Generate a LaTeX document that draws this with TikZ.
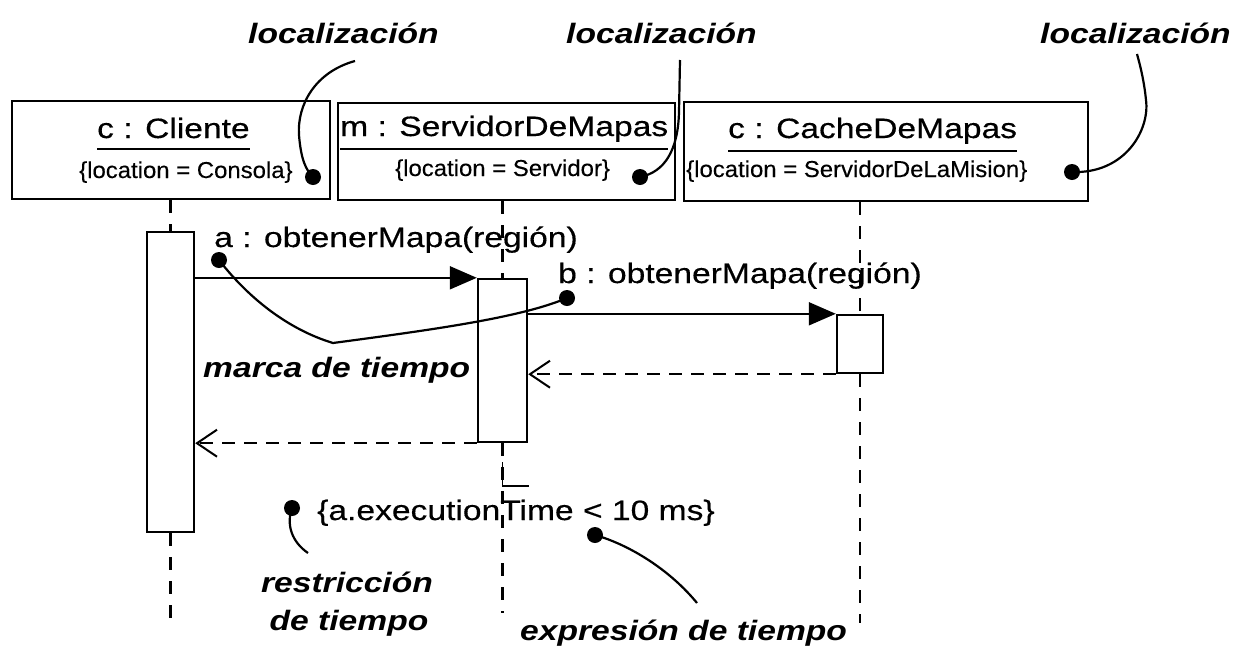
\documentclass[tikz,border=0pt]{standalone}
\usepackage{fontspec}
\usetikzlibrary{arrows.meta,calc}
\newfontfamily\hvbig[FakeStretch=1.2]{Liberation Sans}
\newfontfamily\hvreg[FakeStretch=1.2,FakeBold=0.4]{Liberation Sans}
\newfontfamily\hvsmall[FakeStretch=1.04,FakeBold=0.3]{Liberation Sans}
\begin{document}
\begin{tikzpicture}[x=1pt,y=-1pt,
  big/.style={font=\hvreg\fontsize{28}{32}\selectfont, inner sep=0pt, anchor=base west},
  small/.style={font=\hvsmall\fontsize{23}{26}\selectfont, inner sep=0pt, anchor=base west},
  note/.style={font=\hvbig\bfseries\itshape\fontsize{28}{32}\selectfont, inner sep=0pt, anchor=base west},
  objbox/.style={draw, line width=2.6pt, inner sep=0pt},
  act/.style={draw, line width=2.4pt, fill=white, inner sep=0pt},
  dotm/.style={circle, fill=black, inner sep=0pt, minimum size=16pt},
  msg/.style={line width=2pt, -{Triangle[length=27pt,width=23pt]}},
  ret/.style={line width=2pt, dash pattern=on 13pt off 9pt, -{Straight Barb[length=20pt,width=27pt,line width=2pt]}},
  life/.style={line width=2.4pt, dash pattern=on 13pt off 11pt},
  callout/.style={line width=2.2pt}
]
\useasboundingbox (0,0) rectangle (1243,646);
\fill[white] (0,0) rectangle (1243,646);

% object boxes
\node[objbox, minimum width=318pt, minimum height=98pt] (box1) at (171,150) {};
\node[objbox, minimum width=337pt, minimum height=97pt] (box2) at (506.5,151.5) {};
\node[objbox, minimum width=404pt, minimum height=99pt] (box3) at (886,151.5) {};

% titles
\node[big] (t1) at (97,138) {c : Cliente};
\node[big] (t2) at (340,136) {m : ServidorDeMapas};
\node[big] (t3) at (728,138) {c : CacheDeMapas};
\draw[line width=2pt] ([yshift=-11pt]t1.base west) -- ([yshift=-11pt]t1.base east);
\draw[line width=2pt] ([yshift=-13pt]t2.base west) -- ([yshift=-13pt]t2.base east);
\draw[line width=2pt] ([yshift=-13pt]t3.base west) -- ([yshift=-13pt]t3.base east);

% location tags
\node[small] (s1) at (79,178) {\{location = Consola\}};
\node[small] (s2) at (395,176) {\{location = Servidor\}};
\node[small] (s3) at (686,177) {\{location = ServidorDeLaMision\}};
\node[dotm] (d1) at (313,177) {};
\node[dotm] (d2) at (640,177) {};
\node[dotm] (d3) at (1072,172) {};

% localizacion notes
\node[note] (n1) at (248,43) {localización};
\node[note] (n2) at (566,43) {localización};
\node[note] (n3) at (1040,43) {localización};
\coordinate (c1) at (355,61);
\coordinate (c2) at (680,60);
\coordinate (c3) at (1137,54);
\draw[callout] (c1) .. controls (315,72) and (297,105) .. (299,135)
               .. controls (301,160) and (306,170) .. (d1.center);
\draw[callout] (c2) -- (679,112) .. controls (678,150) and (665,172) .. (d2.center);
\draw[callout] (d3.center) .. controls (1125,174) and (1150,130) .. (1146,100)
               .. controls (1144,80) and (1140,65) .. (c3);

% activations
\node[act, minimum width=47pt, minimum height=300pt] (A1) at (170.5,382) {};
\node[act, minimum width=49pt, minimum height=163pt] (A2) at (502.5,360.5) {};
\node[act, minimum width=46pt, minimum height=58pt] (A3) at (860,344) {};

% lifelines
\coordinate (e1) at (170.5,625);
\coordinate (e2) at (502.5,613);
\coordinate (e3) at (860,623);
\draw[life] (A1.north |- box1.south) -- (A1.north);
\draw[life] (A1.south) -- (e1);
\draw[life] (A2.north |- box2.south) -- (A2.north);
\draw[life] (A2.south) -- (e2);
\draw[life] (A3.north |- box3.south) -- (A3.north);
\draw[life] (A3.south) -- (e3);
\coordinate (stub) at (529,486);
\draw[line width=1.8pt] (502.5,462) -- (502.5,486) -- (stub);

% messages
\draw[msg] (A1.east |- A2.north west) -- (A2.north west);
\draw[msg] (A2.east |- A3.north west) -- (A3.north west);
\draw[ret] (A3.south west) -- (A2.east |- A3.south west);
\draw[ret] (A2.south west) -- (A1.east |- A2.south west);

\node[big] (la) at (214,247) {a : obtenerMapa(región)};
\node[big] (lb) at (558,283) {b : obtenerMapa(región)};

% time marks
\node[dotm] (da) at (219,260) {};
\node[dotm] (db) at (567,298) {};
\coordinate (mk) at (333,343);
\draw[callout] (da.center) .. controls (250,300) and (290,330) .. (mk)
               .. controls (430,330) and (520,318) .. (db.center);
\node[note] (marca) at (203,377) {marca de tiempo};

% constraint
\node[big] (cons) at (317,520) {\{a.executionTime < 10 ms\}};
\node[dotm] (dr) at (292,508) {};
\node[dotm] (de) at (595,535) {};
\node[note, anchor=base] (r1) at (347,592) {restricción};
\node[note, anchor=base] (r2) at (349,630) {de tiempo};
\node[note] (ex) at (520,640) {expresión de tiempo};
\coordinate (cr) at (308,553);
\coordinate (ce) at (697,603);
\draw[callout] (dr.center) .. controls (286,525) and (292,542) .. (cr);
\draw[callout] (de.center) .. controls (630,545) and (670,570) .. (ce);
\end{tikzpicture}
\end{document}
